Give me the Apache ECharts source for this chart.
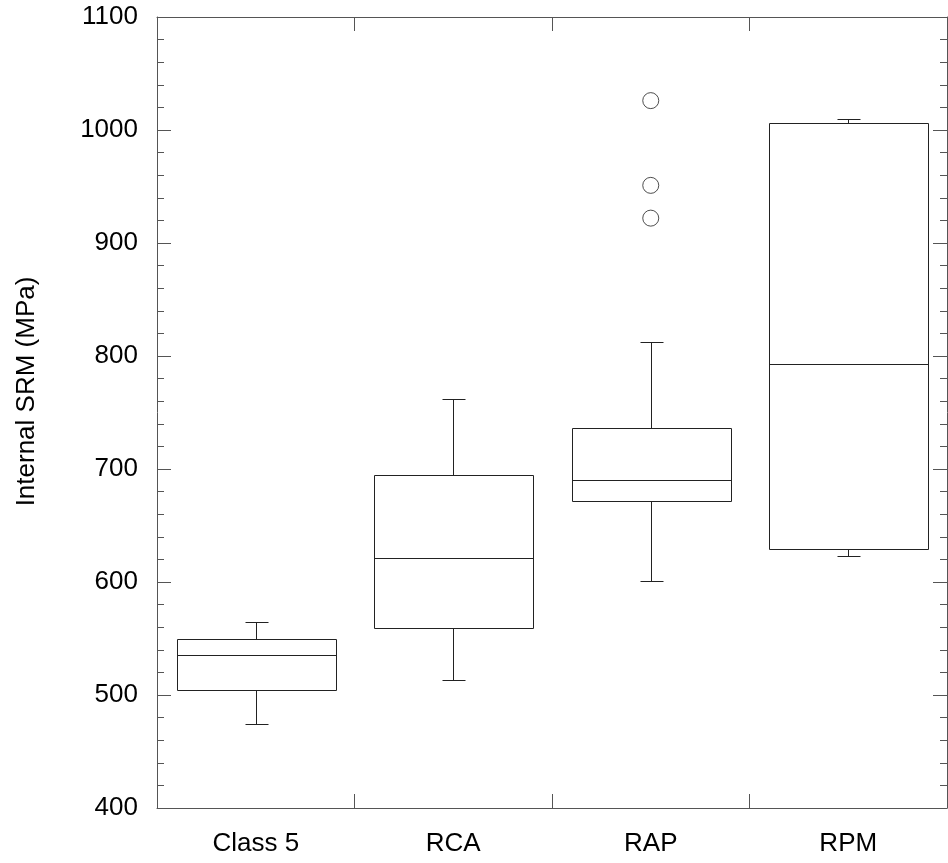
<!DOCTYPE html>
<html>
<head>
<meta charset="utf-8">
<script src="https://cdn.jsdelivr.net/npm/echarts@6/dist/echarts.min.js"></script>
<style>
html,body{margin:0;padding:0;background:#fff;}
#chart{width:948px;height:863px;}
</style>
</head>
<body>
<div id="chart"></div>
<script>
var categories = ['Class 5', 'RCA', 'RAP', 'RPM'];
var whiskerLow = [474, 513, 601, 623];
var q1 = [504, 559, 672, 629];
var median = [535, 621, 690, 793];
var q3 = [550, 695, 736, 1006];
var whiskerHigh = [565, 762, 812, 1010];
var outlierCategory = ['RAP', 'RAP', 'RAP'];
var outlierValues = [922, 951, 1026];
var yTicks = [400, 500, 600, 700, 800, 900, 1000, 1100];

var FONT = "'Liberation Sans', Arial, sans-serif";
var LINE = '#222';
var AXIS = '#555';

var boxData = categories.map(function (c, i) {
  return [i, whiskerLow[i], q1[i], median[i], q3[i], whiskerHigh[i]];
});
var outlierData = outlierCategory.map(function (c, k) {
  return [categories.indexOf(c), outlierValues[k]];
});

function px(v) { return Math.round(v) + 0.5; }

function catAxis(pos, showLabel) {
  return {
    type: 'category',
    data: categories,
    position: pos,
    boundaryGap: true,
    axisLine: { show: true, lineStyle: { color: AXIS, width: 1 } },
    axisTick: { show: true, inside: true, length: 14, interval: 0, alignWithLabel: false, lineStyle: { color: AXIS } },
    axisLabel: { show: showLabel, interval: 0, color: '#000', fontSize: 26, fontFamily: FONT, margin: 23 },
    splitLine: { show: false }
  };
}

function valAxis(pos, showLabel) {
  var a = {
    type: 'value',
    min: yTicks[0],
    max: yTicks[yTicks.length - 1],
    interval: 100,
    position: pos,
    axisLine: { show: true, lineStyle: { color: AXIS, width: 1 } },
    axisTick: { show: true, inside: true, length: 14, lineStyle: { color: AXIS } },
    minorTick: { show: true, splitNumber: 5, length: 7, lineStyle: { color: AXIS } },
    axisLabel: {
      show: showLabel, color: '#000', fontSize: 26, fontFamily: FONT, margin: 19,
      formatter: function (v) { return String(v); }
    },
    splitLine: { show: false },
    minorSplitLine: { show: false }
  };
  return a;
}

var yLeft = valAxis('left', true);
yLeft.name = 'Internal SRM (MPa)';
yLeft.nameLocation = 'middle';
yLeft.nameGap = 117;
yLeft.nameTextStyle = { color: '#000', fontSize: 26, fontFamily: FONT, padding: [0, 0, 0, 42] };

var chart = echarts.init(document.getElementById('chart'));
chart.setOption({
  animation: false,
  backgroundColor: '#fff',
  grid: { left: 157, top: 17, right: 1, bottom: 55 },
  xAxis: [catAxis('bottom', true), catAxis('top', false)],
  yAxis: [yLeft, valAxis('right', false)],
  series: [{
    type: 'custom',
    xAxisIndex: 0,
    yAxisIndex: 0,
    data: boxData,
    encode: { x: 0, y: [1, 2, 3, 4, 5] },
    z: 1,
    renderItem: function (params, api) {
      var i = api.value(0);
      var band = api.size([1, 0])[0];
      var cx = px(api.coord([i, 0])[0]);
      var hw = band * 0.805 / 2;
      var cw = band * 0.06;
      var yLow = px(api.coord([i, api.value(1)])[1]);
      var yQ1 = px(api.coord([i, api.value(2)])[1]);
      var yMed = px(api.coord([i, api.value(3)])[1]);
      var yQ3 = px(api.coord([i, api.value(4)])[1]);
      var yHigh = px(api.coord([i, api.value(5)])[1]);
      var x0 = px(cx - hw), x1 = px(cx + hw);
      var st = { stroke: LINE, lineWidth: 1, fill: null };
      return {
        type: 'group',
        children: [
          { type: 'line', shape: { x1: cx, y1: yHigh, x2: cx, y2: yQ3 }, style: st },
          { type: 'line', shape: { x1: cx, y1: yQ1, x2: cx, y2: yLow }, style: st },
          { type: 'line', shape: { x1: px(cx - cw), y1: yHigh, x2: px(cx + cw), y2: yHigh }, style: st },
          { type: 'line', shape: { x1: px(cx - cw), y1: yLow, x2: px(cx + cw), y2: yLow }, style: st },
          { type: 'rect', shape: { x: x0, y: yQ3, width: x1 - x0, height: yQ1 - yQ3 }, style: { stroke: LINE, lineWidth: 1, fill: '#fff' } },
          { type: 'line', shape: { x1: x0, y1: yMed, x2: x1, y2: yMed }, style: st }
        ]
      };
    }
  }, {
    type: 'scatter',
    xAxisIndex: 0,
    yAxisIndex: 0,
    data: outlierData,
    symbol: 'circle',
    symbolSize: 16,
    itemStyle: { color: '#fff', borderColor: LINE, borderWidth: 1 }
  }]
});
</script>
</body>
</html>
